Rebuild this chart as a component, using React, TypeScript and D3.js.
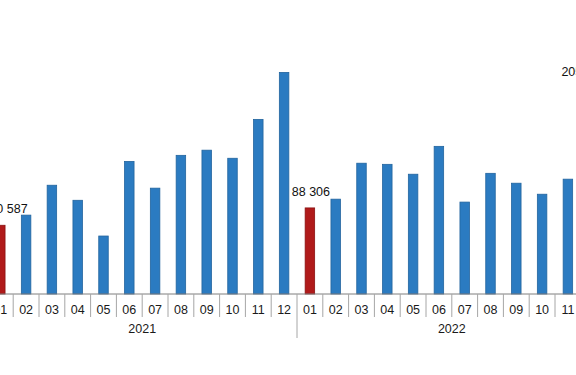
import * as d3 from "d3";

const years = ["2021", "2022"];
const months = ["01", "02", "03", "04", "05", "06", "07", "08", "09", "10", "11", "12"];
const sales2021 = [80587, 85100, 98400, 91700, 75800, 109000, 97100, 111700, 114000, 110400, 127700, 148600];
const sales2022 = [88306, 92200, 108200, 107700, 103300, 115700, 90900, 103700, 99300, 94400, 101100, 205317];
const labelled = ["2021-01", "2022-01", "2022-12"];

type Row = { key: string; year: string; month: string; value: number };

const rows: Row[] = years.flatMap((year, i) =>
  months.map((month, j) => ({
    key: `${year}-${month}`,
    year,
    month,
    value: (i === 0 ? sales2021 : sales2022)[j],
  }))
);

const W = 576;
const H = 375;
const base = 294;
const slot = 25.8;
const left = -12.6;
const barW = 9.5;
const plotTop = 40;
const labelTop = 88;

const fmt = (v: number) => d3.format(",")(v).replace(/,/g, " ");

const App = () => {
  const x = d3
    .scaleBand<string>()
    .domain(rows.map((d) => d.key))
    .range([left, left + slot * rows.length]);
  const y = d3.scaleLinear().domain([50000, 200000]).range([base, base - 150000 / 445]);

  const yearX = (yr: string) => {
    const keys = rows.filter((d) => d.year === yr).map((d) => d.key);
    const a = x(keys[0])!;
    const b = x(keys[keys.length - 1])! + x.bandwidth();
    return [a, b];
  };

  return (
    <svg
      width={W}
      height={H}
      style={{ position: "absolute", left: 0, top: 0, background: "#fff" }}
      fontFamily="Arial, 'Liberation Sans', sans-serif"
    >
      {rows.map((d) => {
        const cx = x(d.key)! + x.bandwidth() / 2;
        const top = Math.max(y(d.value), plotTop);
        const red = d.month === "01";
        return (
          <rect
            key={d.key}
            x={cx - barW / 2}
            y={top}
            width={barW}
            height={base - top}
            fill={red ? "#b01a1a" : "#2b7bc1"}
            stroke={red ? "#8a1212" : "#22649e"}
            strokeWidth={0.8}
          />
        );
      })}
      <line x1={0} x2={W} y1={base} y2={base} stroke="#7f7f7f" strokeWidth={1} />
      {rows.map((d) => {
        const x0 = x(d.key)!;
        const isYear = d.month === "01";
        return (
          <line
            key={"t" + d.key}
            x1={x0}
            x2={x0}
            y1={base}
            y2={isYear ? base + 44 : base + 23}
            stroke="#a6a6a6"
            strokeWidth={1}
          />
        );
      })}
      {rows.map((d) => (
        <text
          key={"m" + d.key}
          x={x(d.key)! + x.bandwidth() / 2}
          y={base + 20}
          textAnchor="middle"
          fontSize={12.5}
          fill="#1a1a1a"
        >
          {d.month}
        </text>
      ))}
      {years.map((yr) => {
        const [a, b] = yearX(yr);
        return (
          <text key={yr} x={(a + b) / 2} y={base + 39} textAnchor="middle" fontSize={12.5} fill="#1a1a1a">
            {yr}
          </text>
        );
      })}
      {rows
        .filter((d) => labelled.includes(d.key))
        .map((d) => {
          const cx = x(d.key)! + x.bandwidth() / 2;
          const top = Math.max(y(d.value), labelTop);
          const lx = Math.min(Math.max(cx + 1, 8.5), 584);
          return (
            <text key={"v" + d.key} x={lx} y={top - 12} textAnchor="middle" fontSize={12.5} fill="#111">
              {fmt(d.value)}
            </text>
          );
        })}
    </svg>
  );
};

export default App;
